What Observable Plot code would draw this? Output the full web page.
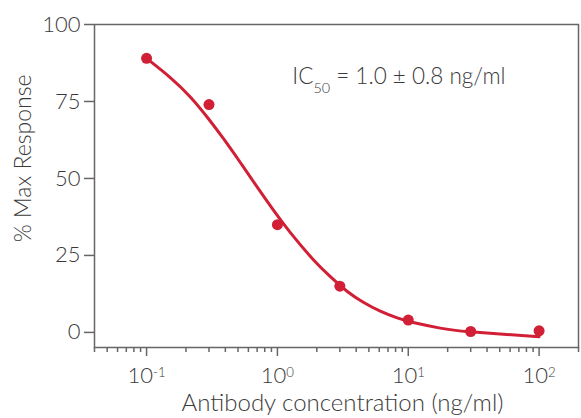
<!DOCTYPE html>
<html><head><meta charset="utf-8">
<script src="https://cdn.jsdelivr.net/npm/d3@7"></script>
<script src="https://cdn.jsdelivr.net/npm/@observablehq/plot@0.6"></script>
<style>
body{margin:0;background:#fff}
svg{font-family:Lato,"Open Sans",sans-serif;font-weight:300}
</style>
</head><body><div id="chart"></div>
<script>
// measured data points
const concentrations = [0.1, 0.3, 1, 3, 10, 30, 100];
const responses = [89, 74, 35, 15, 4, 0.3, 0.5];
// fitted curve
const fitConc = [0.1, 0.1525, 0.2168, 0.2921, 0.3871, 0.522, 0.7035, 0.9322, 1.256, 1.883, 2.539, 3.423, 4.533, 6.113, 8.241, 10.92, 17.55, 29.74, 100];
const fitResp = [89.0, 82.7, 76.4, 69.8, 62.9, 55.1, 47.1, 39.7, 32.4, 23.6, 18.1, 13.3, 9.8, 6.9, 4.7, 3.2, 1.4, 0.2, -1.4];
// axes
const yTicks = [0, 25, 50, 75, 100];
const decadeTicks = [0.1, 1, 10, 100];
const decadeExponents = ["-1", "0", "1", "2"];
const minorTicks = [0.04,0.05,0.06,0.07,0.08,0.09,0.2,0.3,0.4,0.5,0.6,0.7,0.8,0.9,2,3,4,5,6,7,8,9,20,30,40,50,60,70,80,90,200];
const annotation = ["IC", "50", " = 1.0 ± 0.8 ng/ml"];
const annotationPos = {x: 1.3, y: 83};
const xLabel = "Antibody concentration (ng/ml)";
const yLabel = "% Max Response";

const red = "#d11f35";
const ink = "#3a3a3a";
const points = concentrations.map((c, i) => ({c, r: responses[i]}));
const fit = fitConc.map((c, i) => ({c, r: fitResp[i]}));

const plot = Plot.plot({
  width: 581, height: 418,
  marginLeft: 94, marginRight: 3, marginTop: 24, marginBottom: 71,
  style: {color: ink, fontSize: "22px", background: "#fff"},
  x: {type: "log", domain: [0.04, 200]},
  y: {domain: [-4.9, 100]},
  marks: [
    Plot.axisX({ticks: minorTicks, tickSize: 5, tickFormat: () => "", stroke: "#666", strokeWidth: 1.5, label: null}),
    Plot.axisX({ticks: decadeTicks, tickSize: 9, tickPadding: 11, tickFormat: d => "10|" + decadeExponents[decadeTicks.indexOf(d)], stroke: "#666", strokeWidth: 1.5, fontSize: 22, fill: ink, label: null}),
    Plot.axisY({ticks: yTicks, tickSize: 10, tickPadding: 4, stroke: "#666", strokeWidth: 1.5, fontSize: 22, fill: ink, label: null}),
    Plot.frame({stroke: "#666", strokeWidth: 1.5}),
    Plot.line(fit, {x: "c", y: "r", stroke: red, strokeWidth: 3, curve: "natural"}),
    Plot.dot(points, {x: "c", y: "r", fill: red, r: 5.5}),
    Plot.text([annotation.join("|")], {x: () => annotationPos.x, y: () => annotationPos.y, text: d => d, textAnchor: "start", fontSize: 22.5, fill: ink}),
    Plot.text([yLabel], {frameAnchor: "left", y: () => 56.5, text: d => d, rotate: -90, textAnchor: "middle", dx: -71, fontSize: 23, fill: ink}),
    Plot.text([xLabel], {frameAnchor: "bottom", text: d => d, dy: 63, dx: 6, fontSize: 24, fill: ink})
  ]
});

const svg = d3.select(plot);
svg.selectAll("text").each(function() {
  const t = d3.select(this);
  const s = t.text();
  if (!s.includes("|")) return;
  const parts = s.split("|");
  t.text("");
  if (parts.length === 2) {
    t.append("tspan").text(parts[0]);
    t.append("tspan").attr("dy", "-0.5em").attr("font-size", "0.6em").text(parts[1]);
  } else {
    t.append("tspan").text(parts[0]);
    t.append("tspan").attr("dy", "0.6em").attr("font-size", "0.64em").text(parts[1]);
    t.append("tspan").attr("dy", "-0.38em").text(parts[2]);
  }
});
document.getElementById("chart").append(plot);
</script>
</body></html>
